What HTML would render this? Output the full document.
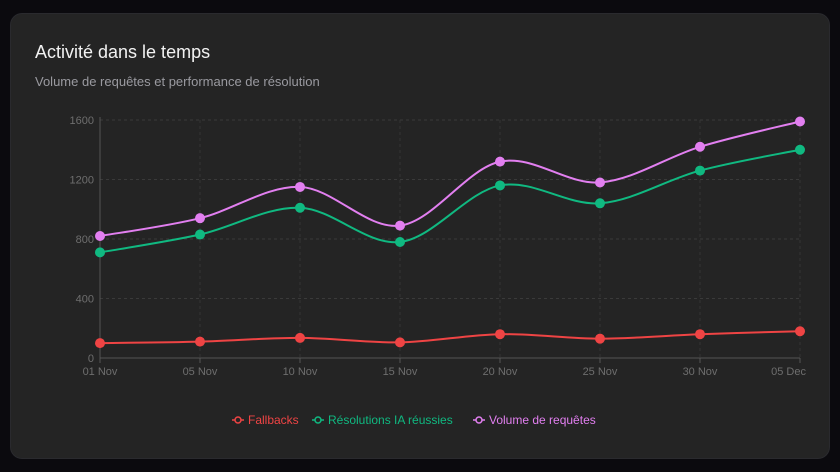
<!DOCTYPE html>
<html><head><meta charset="utf-8"><style>
html,body{margin:0;padding:0;background:#0b0a0e;width:840px;height:472px;overflow:hidden;font-family:"Liberation Sans",sans-serif}
.card{position:absolute;left:10px;top:13px;width:820px;height:446px;background:#242424;border-radius:12px;border:1px solid #2a2a2e;box-sizing:border-box}
h1{position:absolute;left:24px;top:28px;margin:0;font-size:18px;font-weight:normal;color:#f2f2f2}
p{position:absolute;left:24px;top:60px;margin:0;font-size:13px;color:#9a9aa0}
svg{position:absolute;left:0;top:0}
</style></head><body>
<div class="card">
<h1>Activité dans le temps</h1>
<p>Volume de requêtes et performance de résolution</p>
</div>
<svg id="c" width="840" height="472"></svg>
<script>
const categories=["01 Nov","05 Nov","10 Nov","15 Nov","20 Nov","25 Nov","30 Nov","05 Dec"];
const fallbacks=[100,110,135,105,160,130,160,180];
const resolutions=[710,830,1010,780,1160,1040,1260,1400];
const volume=[820,940,1150,890,1320,1180,1420,1590];
const yTicks=[0,400,800,1200,1600];
const X0=100,X1=800,Y0=358,Y1=120,YMAX=1600;
const svg=document.getElementById('c');
const NS='http://www.w3.org/2000/svg';
const xs=i=>X0+(X1-X0)*i/(categories.length-1);
const ys=v=>Y0-(Y0-Y1)*v/YMAX;
function mk(t,a,p){const e=document.createElementNS(NS,t);for(const k in a)e.setAttribute(k,a[k]);(p||svg).appendChild(e);return e;}
yTicks.forEach(v=>{
 if(v>0){const g=mk('line',{x1:X0,x2:X1,y1:ys(v),y2:ys(v),stroke:'#3a3a3a','stroke-dasharray':'3,3'});
 
 }
 const t=mk('text',{x:X0-6,y:ys(v)+4,'text-anchor':'end','font-size':11,fill:'#6e6e6e'});t.textContent=v;
 
 
});
categories.forEach((c,i)=>{
 if(i>0){const g=mk('line',{x1:xs(i),x2:xs(i),y1:Y1,y2:Y0,stroke:'#353535','stroke-dasharray':'3,3'});
 
 }
 mk('line',{x1:xs(i),x2:xs(i),y1:Y0,y2:Y0+5,stroke:'#555'});
 const last=i==categories.length-1;
 const t=mk('text',{x:last?xs(i)+6:xs(i),y:Y0+17,'text-anchor':last?'end':'middle','font-size':11,fill:'#6e6e6e'});t.textContent=c;
 
 
});
const ax=mk('line',{x1:X0,x2:X0,y1:Y1-3,y2:Y0,stroke:'#555'});


const bx=mk('line',{x1:X0,x2:X1,y1:Y0,y2:Y0,stroke:'#555'});


function path(vals){
 const p=vals.map((v,i)=>[xs(i),ys(v)]);let d=`M${p[0][0]},${p[0][1]}`;
 for(let i=0;i<p.length-1;i++){const a=p[i-1]||p[i],b=p[i],c=p[i+1],e=p[i+2]||c;
  d+=` C${b[0]+(c[0]-a[0])/6},${b[1]+(c[1]-a[1])/6} ${c[0]-(e[0]-b[0])/6},${c[1]-(e[1]-b[1])/6} ${c[0]},${c[1]}`;}
 return d;}
[[fallbacks,'#ef4444','series-fallbacks'],[resolutions,'#10b981','series-resolutions'],[volume,'#e27ff0','series-volume']].forEach(([vals,col,name])=>{
 const l=mk('path',{d:path(vals),fill:'none',stroke:col,'stroke-width':2});
 
 
 vals.forEach((v,i)=>{const c=mk('circle',{cx:xs(i),cy:ys(v),r:5,fill:col});
  
  });
});
const leg=[['Fallbacks','#ef4444',232],['Résolutions IA réussies','#10b981',312],['Volume de requêtes','#e27ff0',473]];
leg.forEach(([t,col,x])=>{
 const g=mk('g',{});
 
 
 mk('line',{x1:x,x2:x+12,y1:420,y2:420,stroke:col,'stroke-width':1.5},g);
 mk('circle',{cx:x+6,cy:420,r:3,fill:'#242424',stroke:col,'stroke-width':1.5},g);
 const tx=mk('text',{x:x+16,y:424,'font-size':12,fill:col},g);tx.textContent=t;
});
</script>
</body></html>
